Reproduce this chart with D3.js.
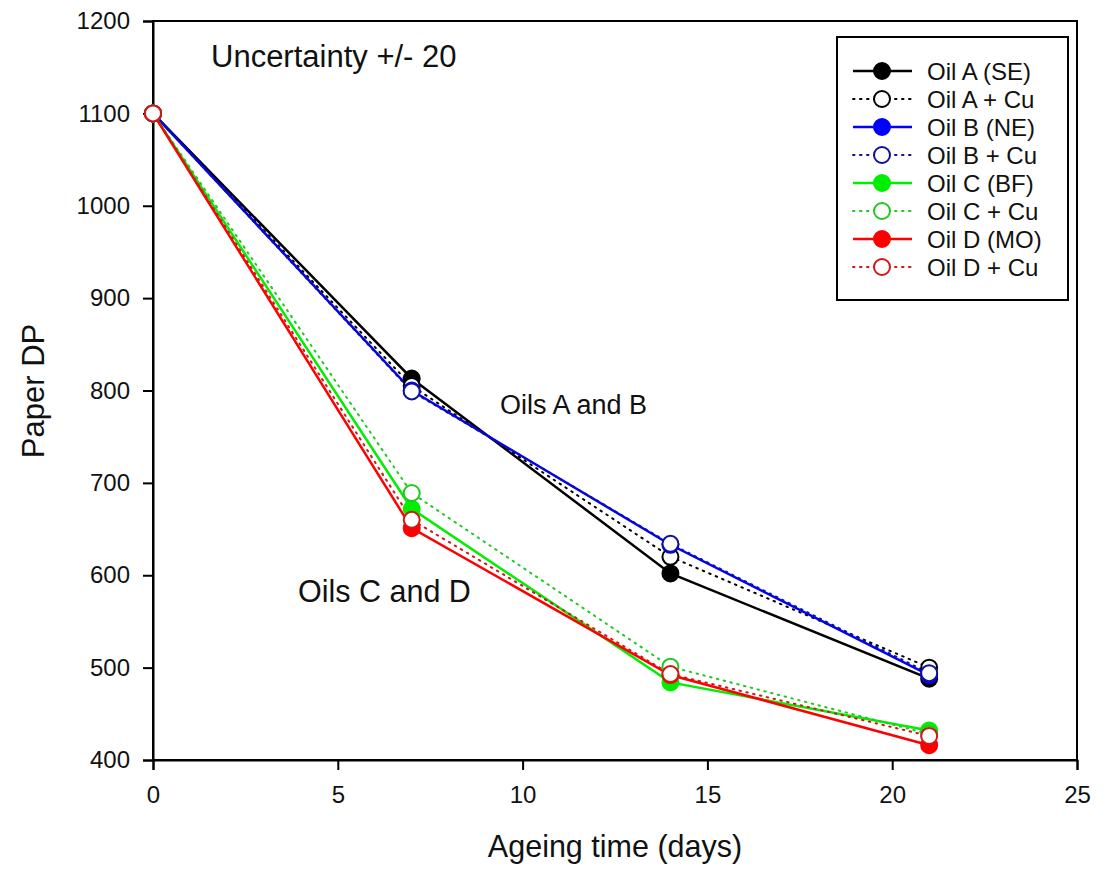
<!DOCTYPE html>
<html>
<head>
<meta charset="utf-8">
<script src="https://cdn.jsdelivr.net/npm/d3@7"></script>
<style>
  html, body { margin: 0; padding: 0; background: #ffffff; }
  svg { display: block; font-family: "Liberation Sans", Arial, sans-serif; }
</style>
</head>
<body>
<svg id="chart" width="1116" height="871"></svg>
<script>
// Ageing days at which paper DP was measured
const days = [0, 7, 14, 21];

// Paper DP per oil, without and with copper
const oilA   = [1100, 813, 602, 488];
const oilACu = [1100, 805, 620, 500];
const oilB   = [1100, 800, 633, 492];
const oilBCu = [1100, 799, 634, 494];
const oilC   = [1100, 672, 484, 432];
const oilCCu = [1100, 689, 501, 428];
const oilD   = [1100, 651, 492, 416];
const oilDCu = [1100, 660, 493, 426];

const seriesNames = ["Oil A (SE)", "Oil A + Cu", "Oil B (NE)", "Oil B + Cu",
                     "Oil C (BF)", "Oil C + Cu", "Oil D (MO)", "Oil D + Cu"];
const seriesValues = [oilA, oilACu, oilB, oilBCu, oilC, oilCCu, oilD, oilDCu];
const seriesColors = ["#000000", "#000000", "#0000ff", "#10109a",
                      "#00ee00", "#22c822", "#ff0000", "#d01818"];
const seriesFilled = [true, false, true, false, true, false, true, false];

const xTicks = [0, 5, 10, 15, 20, 25];
const yTicks = [400, 500, 600, 700, 800, 900, 1000, 1100, 1200];

const svg = d3.select("#chart");
const plot = { left: 153, right: 1077, top: 21, bottom: 760 };

const x = d3.scaleLinear().domain([0, 25]).range([plot.left, plot.right]);
const y = d3.scaleLinear().domain([400, 1200]).range([plot.bottom, plot.top]);

// Frame
svg.append("rect")
  .attr("x", plot.left).attr("y", plot.top)
  .attr("width", plot.right - plot.left).attr("height", plot.bottom - plot.top)
  .attr("fill", "none").attr("stroke", "#000").attr("stroke-width", 2);

// Axes
const xAxis = svg.append("g")
  .attr("transform", `translate(0,${plot.bottom})`)
  .call(d3.axisBottom(x).tickValues(xTicks).tickSize(10).tickPadding(16).tickFormat(d3.format("d")));
const yAxis = svg.append("g")
  .attr("transform", `translate(${plot.left},0)`)
  .call(d3.axisLeft(y).tickValues(yTicks).tickSize(10).tickPadding(13).tickFormat(d3.format("d")));
[xAxis, yAxis].forEach(a => {
  a.select(".domain").attr("stroke", "#000").attr("stroke-width", 2);
  a.selectAll(".tick line").attr("stroke", "#000").attr("stroke-width", 2);
  a.selectAll(".tick text").attr("fill", "#111").style("font-size", "24px")
    .style("font-family", "'Liberation Sans', Arial, sans-serif");
});

// Axis titles
svg.append("text")
  .attr("x", (plot.left + plot.right) / 2).attr("y", 857)
  .attr("text-anchor", "middle").style("font-size", "30.5px").attr("fill", "#111")
  .text("Ageing time (days)");
svg.append("text")
  .attr("transform", `translate(44,391) rotate(-90)`)
  .attr("text-anchor", "middle").style("font-size", "31px").attr("fill", "#111")
  .text("Paper DP");

// Annotations
const notes = [
  { t: "Uncertainty +/- 20", x: 211, y: 67, size: 31 },
  { t: "Oils A and B", x: 500, y: 414, size: 27 },
  { t: "Oils C and D", x: 298, y: 602, size: 30.5 }
];
svg.selectAll(".note").data(notes).enter().append("text")
  .attr("class", "note")
  .attr("x", d => d.x).attr("y", d => d.y)
  .style("font-size", d => d.size + "px").attr("fill", "#111")
  .text(d => d.t);

// Lines and markers
const line = d3.line().x((d, i) => x(days[i])).y(d => y(d));
const r = 8;

seriesValues.forEach((vals, s) => {
  svg.append("path")
    .datum(vals)
    .attr("d", line)
    .attr("fill", "none")
    .attr("stroke", seriesColors[s])
    .attr("stroke-width", seriesFilled[s] ? 2.5 : 2)
    .attr("stroke-dasharray", seriesFilled[s] ? null : "1.5,5.5")
    .attr("stroke-linecap", seriesFilled[s] ? "butt" : "round");
});

seriesValues.forEach((vals, s) => {
  svg.append("g").selectAll("circle").data(vals).enter().append("circle")
    .attr("cx", (d, i) => x(days[i]))
    .attr("cy", d => y(d))
    .attr("r", r)
    .attr("fill", seriesFilled[s] ? seriesColors[s] : "#ffffff")
    .attr("stroke", seriesColors[s])
    .attr("stroke-width", 2);
});

// Legend
const lg = svg.append("g");
lg.append("rect")
  .attr("x", 837).attr("y", 37).attr("width", 231).attr("height", 263)
  .attr("fill", "#fff").attr("stroke", "#000").attr("stroke-width", 2);

const legendRow = d3.scaleLinear().domain([0, 7]).range([71, 267]);
seriesNames.forEach((name, s) => {
  const yy = legendRow(s);
  lg.append("line")
    .attr("x1", 853).attr("x2", 912).attr("y1", yy).attr("y2", yy)
    .attr("stroke", seriesColors[s])
    .attr("stroke-width", seriesFilled[s] ? 2.5 : 2)
    .attr("stroke-dasharray", seriesFilled[s] ? null : "1.5,5.5")
    .attr("stroke-linecap", seriesFilled[s] ? "butt" : "round");
  lg.append("circle")
    .attr("cx", 882).attr("cy", yy).attr("r", r)
    .attr("fill", seriesFilled[s] ? seriesColors[s] : "#fff")
    .attr("stroke", seriesColors[s]).attr("stroke-width", 2);
  lg.append("text")
    .attr("x", 927).attr("y", yy + 8.5)
    .style("font-size", "24px").attr("fill", "#111")
    .text(name);
});
</script>
</body>
</html>
